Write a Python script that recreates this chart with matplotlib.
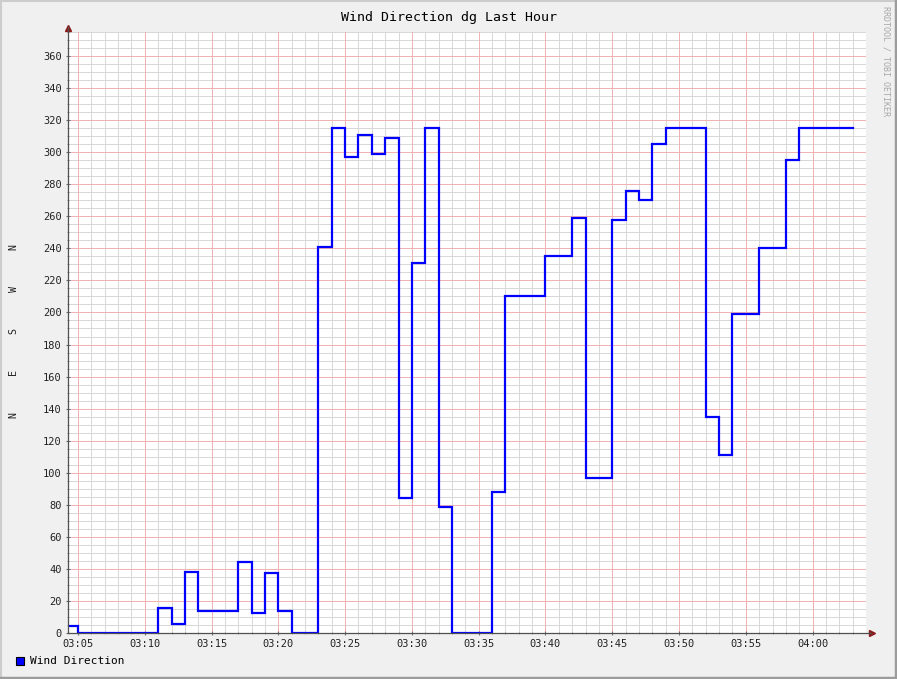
import matplotlib
matplotlib.use("Agg")
import matplotlib.pyplot as plt
from matplotlib.lines import Line2D
from matplotlib.patches import Rectangle

# ---- data (minutes after 03:00) ----
step_edges = [4, 5, 11, 12, 13, 14, 17, 18, 19, 20, 21, 23, 24, 25, 26, 27, 28,
              29, 30, 31, 32, 33, 36, 37, 40, 42, 43, 45, 46, 47, 48, 49, 52,
              53, 54, 56, 58, 59, 63]
wind_dir = [4.4, 0, 15.5, 5.5, 38, 14, 44, 12.5, 37.5, 13.5, 0, 241, 315, 297,
            311, 299, 309, 84, 231, 315, 78.5, 0, 88, 210, 235, 259, 97, 258,
            276, 270, 305, 315, 135, 111, 199, 240, 295, 315]
x_tick_pos = [5, 10, 15, 20, 25, 30, 35, 40, 45, 50, 55, 60]
x_tick_labels = ["03:05", "03:10", "03:15", "03:20", "03:25", "03:30",
                 "03:35", "03:40", "03:45", "03:50", "03:55", "04:00"]
y_ticks = list(range(0, 361, 20))

W, H = 897, 679
fig = plt.figure(figsize=(W / 100, H / 100), dpi=100, facecolor="#F0F0F0")
mono = "DejaVu Sans Mono"

L, R, T, B = 68, 866, 32, 633
ax = fig.add_axes([L / W, 1 - B / H, (R - L) / W, (B - T) / H])
ax.set_facecolor("white")
ax.set_xlim(4.25, 64.0)
ax.set_ylim(0, 375)

# grid (minor first, major on top)
for m in range(5, 64):
    if m % 5:
        ax.axvline(m, color="#D8D8D8", lw=0.72, zorder=1, snap=True)
for v in range(5, 376, 5):
    if v % 20:
        ax.axhline(v, color="#D8D8D8", lw=0.72, zorder=1, snap=True)
for m in range(5, 64, 5):
    ax.axvline(m, color="#F0B2B2", lw=0.72, zorder=1.5, snap=True)
for v in range(20, 376, 20):
    ax.axhline(v, color="#F0B2B2", lw=0.72, zorder=1.5, snap=True)

xs = step_edges
ys = wind_dir + [wind_dir[-1]]
ax.step(xs, ys, where="post", color="#0000FF", lw=1.6, zorder=3,
        solid_joinstyle="miter")

for s in ax.spines.values():
    s.set_visible(False)

ax.set_xticks(x_tick_pos)
ax.set_xticklabels(x_tick_labels, fontfamily=mono, fontsize=7.5)
ax.set_yticks(y_ticks)
ax.set_yticklabels([str(v) for v in y_ticks], fontfamily=mono, fontsize=7.5)
ax.set_xticks(range(5, 64), minor=True)
ax.set_yticks(range(5, 376, 5), minor=True)
ax.tick_params(axis="both", which="major", length=3, width=0.8, color="#707070",
               direction="inout", pad=3, labelcolor="#222222")
ax.tick_params(axis="both", which="minor", length=2, width=0.6, color="#909090",
               direction="inout")

# axis lines with arrows
fig.add_artist(Line2D([L / W, 871 / W], [1 - B / H, 1 - B / H], color="#505050", lw=0.9))
fig.add_artist(Line2D([L / W, L / W], [1 - B / H, 1 - 27 / H], color="#505050", lw=0.9))
ax.plot([1.0 + 6 / (R - L)], [0], marker=">", color="#8B1A1A", ms=4,
        transform=ax.transAxes, clip_on=False, zorder=5)
ax.plot([0], [1.0 + 4 / (B - T)], marker="^", color="#8B1A1A", ms=4,
        transform=ax.transAxes, clip_on=False, zorder=5)

# title
fig.text(449 / W, 1 - 17 / H, "Wind Direction dg Last Hour", fontfamily=mono,
         fontsize=9.5, ha="center", va="center", color="#000000")
# vertical label
fig.text(14 / W, 1 - 331 / H, "N      E      S      W      N", fontfamily=mono,
         fontsize=7.2, rotation=90, ha="center", va="center", color="#222222")
# watermark
fig.text(886 / W, 1 - 6 / H, "RRDTOOL / TOBI OETIKER", fontfamily=mono,
         fontsize=6, rotation=270, ha="center", va="top", color="#A8A8A8")

# legend
fig.add_artist(Rectangle((16 / W, 1 - 665 / H), 8 / W, 8 / H, facecolor="#0000FF",
                         edgecolor="black", lw=0.8, transform=fig.transFigure))
fig.text(30 / W, 1 - 661 / H, "Wind Direction", fontfamily=mono, fontsize=8,
         ha="left", va="center", color="#000000")

# frame
fig.add_artist(Line2D([0, 1], [1 - 0.5 / H] * 2, color="#CCCCCC", lw=1.5))
fig.add_artist(Line2D([0.5 / W] * 2, [0, 1], color="#CCCCCC", lw=1.5))
fig.add_artist(Line2D([0, 1], [1.2 / H] * 2, color="#9C9C9C", lw=2.5))
fig.add_artist(Line2D([1 - 1.2 / W] * 2, [0, 1], color="#9C9C9C", lw=2.5))

fig.savefig("out.png", dpi=100, facecolor=fig.get_facecolor())
